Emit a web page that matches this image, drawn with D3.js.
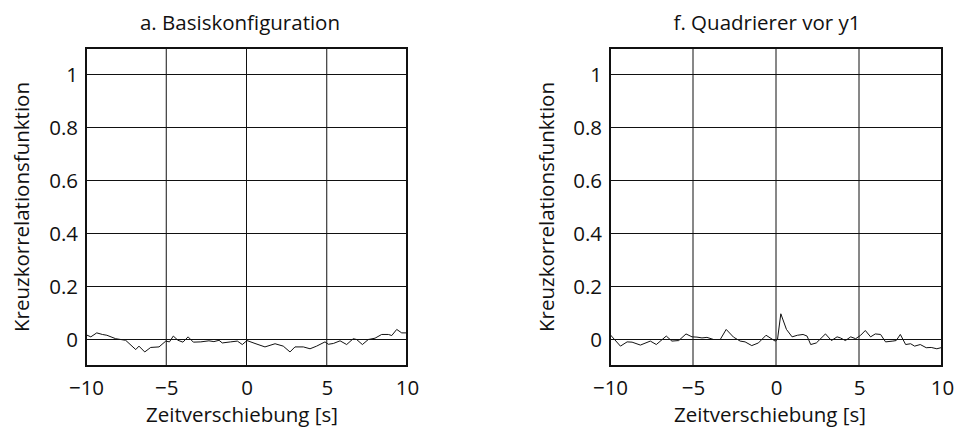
<!DOCTYPE html>
<html>
<head>
<meta charset="utf-8">
<script src="https://cdn.jsdelivr.net/npm/d3@7"></script>
<style>
  body { margin: 0; background: #fff; }
  svg { display: block; }
  text { font-family: "Open Sans", "Noto Sans", sans-serif; fill: #111; }
</style>
</head>
<body>
<div id="chart"></div>
<script>
"use strict";

// panel titles and axis texts
const titles = ["a. Basiskonfiguration", "f. Quadrierer vor y1"];
const xLabel = "Zeitverschiebung [s]";
const yLabel = "Kreuzkorrelationsfunktion";

const xTicks = [-10, -5, 0, 5, 10];
const yTicks = [0, 0.2, 0.4, 0.6, 0.8, 1];

// a. Basiskonfiguration
const baseX = [-10, -9.7, -9.33, -8.98, -8.7, -8.15, -7.53, -6.9, -6.7, -6.34, -5.97, -5.45, -5.03, -4.8,
  -4.56, -4.27, -3.96, -3.64, -3.31, -2.85, -2.34, -2.03, -1.71, -1.51, -0.99, -0.57, -0.26, 0.03,
  0.53, 1.15, 1.78, 2.29, 2.71, 3.02, 3.54, 3.96, 4.37, 4.89, 5.1, 5.41, 5.83, 6.24, 6.65, 6.86,
  7.22, 7.59, 8.01, 8.42, 8.84, 9.05, 9.36, 9.67, 10];
const baseY = [0.018, 0.01, 0.025, 0.019, 0.016, 0.003, -0.003, -0.038, -0.025, -0.047, -0.03, -0.028, -0.006, -0.009,
  0.013, -0.003, -0.01, 0.01, -0.01, -0.009, -0.005, -0.008, -0.003, -0.013, -0.009, -0.006, -0.019, -0.004,
  -0.015, -0.028, -0.016, -0.025, -0.047, -0.028, -0.028, -0.035, -0.025, -0.009, -0.018, -0.015, -0.005, -0.019, 0.003, 0,
  -0.019, 0, 0.005, 0.019, 0.019, 0.015, 0.038, 0.025, 0.025];

// f. Quadrierer vor y1
const squareX = [-10, -9.37, -8.97, -8.67, -8.17, -7.57, -7.21, -6.61, -6.27, -5.86, -5.42, -5.06, -4.76, -4.46,
  -4.16, -3.76, -3.36, -3.0, -2.56, -2.16, -1.86, -1.46, -1.06, -0.6, -0.05, 0.09, 0.29, 0.63, 0.97,
  1.29, 1.63, 1.87, 2.09, 2.43, 2.98, 3.34, 3.68, 3.88, 4.18, 4.5, 4.8, 5.1, 5.38, 5.7, 5.98, 6.3,
  6.6, 7.04, 7.24, 7.49, 7.81, 8.11, 8.35, 8.69, 9.05, 9.35, 9.69, 10];
const squareY = [0.019, -0.025, -0.009, -0.01, -0.021, -0.006, -0.019, 0.013, -0.006, -0.004, 0.021, 0.01, 0.009, 0.006,
  0.008, 0, 0, 0.038, 0.009, -0.006, -0.009, -0.023, -0.013, 0.016, -0.006, 0, 0.097, 0.038, 0.01,
  0.016, 0.019, 0.013, -0.019, -0.013, 0.021, -0.004, 0.01, 0.006, -0.004, 0.01, 0.003, 0.016, 0.034, 0.01, 0.021, 0.019,
  -0.009, -0.006, -0.004, 0.019, -0.019, -0.016, -0.025, -0.019, -0.031, -0.03, -0.035, -0.03];

const width = 954, height = 430;
const fontSize = "20.5px";

const svg = d3.select("#chart").append("svg")
    .attr("width", width)
    .attr("height", height);

svg.append("rect").attr("width", width).attr("height", height).attr("fill", "white");

const panels = [
    {left: 86, right: 407, title: titles[0], xs: baseX, ys: baseY, titleX: 240, yLabelX: 29, xLabelX: 242},
    {left: 610, right: 942, title: titles[1], xs: squareX, ys: squareY, titleX: 767, yLabelX: 554, xLabelX: 770}
];

const plotTop = 48, plotBottom = 366;

panels.forEach(function (p) {
    const x = d3.scaleLinear().domain([-10, 10]).range([p.left, p.right]);
    const y = d3.scaleLinear().domain([-0.1, 1.1]).range([plotBottom, plotTop]);

    const g = svg.append("g");

    // grid lines
    g.selectAll(".vgrid").data(xTicks.filter(d => d > -10 && d < 10)).enter()
        .append("line")
        .attr("x1", d => x(d)).attr("x2", d => x(d))
        .attr("y1", plotTop).attr("y2", plotBottom)
        .attr("stroke", "#111").attr("stroke-width", 1);
    g.selectAll(".hgrid").data(yTicks).enter()
        .append("line")
        .attr("x1", p.left).attr("x2", p.right)
        .attr("y1", d => y(d)).attr("y2", d => y(d))
        .attr("stroke", "#111").attr("stroke-width", 1);

    // the trace
    const line = d3.line().x(d => x(d[0])).y(d => y(d[1]));
    g.append("path")
        .datum(p.xs.map((v, i) => [v, p.ys[i]]))
        .attr("d", line)
        .attr("fill", "none")
        .attr("stroke", "#111")
        .attr("stroke-width", 1);

    // frame
    g.append("rect")
        .attr("x", p.left).attr("y", plotTop)
        .attr("width", p.right - p.left).attr("height", plotBottom - plotTop)
        .attr("fill", "none").attr("stroke", "#111").attr("stroke-width", 2);

    // axes, drawn only for their labels
    const xAxis = d3.axisBottom(x).tickValues(xTicks).tickSize(0).tickPadding(14)
        .tickFormat(d => d < 0 ? "\u2212" + Math.abs(d) : d);
    const yAxis = d3.axisLeft(y).tickValues(yTicks).tickSize(0).tickPadding(8)
        .tickFormat(d3.format("~g"));

    const gx = g.append("g").attr("transform", "translate(0," + plotBottom + ")").call(xAxis);
    const gy = g.append("g").attr("transform", "translate(" + p.left + ",0)").call(yAxis);
    [gx, gy].forEach(function (a) {
        a.select(".domain").remove();
        a.selectAll("text").style("font-size", fontSize)
            .style("font-family", "'Open Sans', 'Noto Sans', sans-serif").attr("fill", "#111");
    });

    g.append("text")
        .attr("x", p.titleX).attr("y", 30)
        .attr("text-anchor", "middle")
        .style("font-size", fontSize)
        .text(p.title);

    g.append("text")
        .attr("x", p.xLabelX).attr("y", 422)
        .attr("text-anchor", "middle")
        .style("font-size", fontSize)
        .text(xLabel);

    g.append("text")
        .attr("transform", "translate(" + p.yLabelX + "," + 207 + ") rotate(-90)")
        .attr("text-anchor", "middle")
        .style("font-size", fontSize)
        .text(yLabel);
});
</script>
</body>
</html>
